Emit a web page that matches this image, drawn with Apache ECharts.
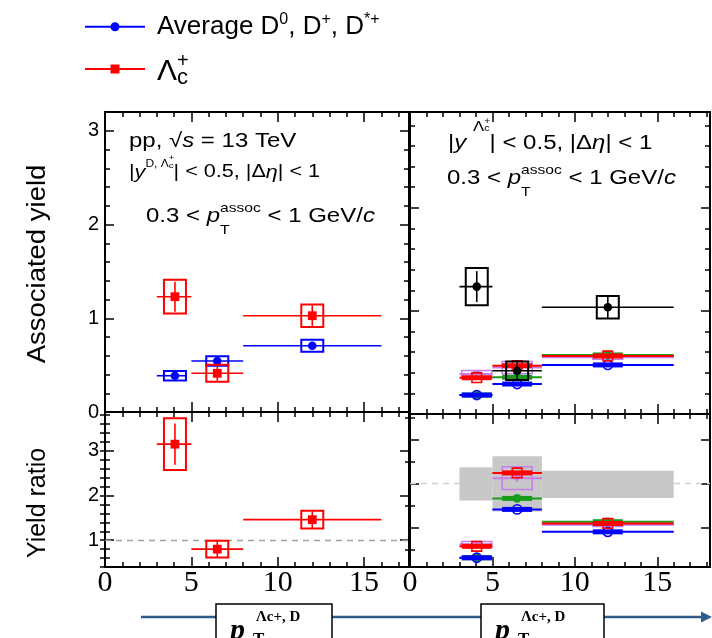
<!DOCTYPE html>
<html>
<head>
<meta charset="utf-8">
<script src="https://cdn.jsdelivr.net/npm/echarts@6/dist/echarts.min.js"></script>
<style>
  html, body { margin: 0; padding: 0; background: #fff; }
  #chart { width: 712px; height: 638px; }
</style>
</head>
<body>
<div id="chart"></div>
<script>
// ---- pT binning (GeV/c) ----
const binLow = [3, 5, 8];
const binHigh = [5, 8, 16];
const binMean = [4.05, 6.5, 12.0];
const dBinHigh = [4.7, 8, 16];

// ---- Associated yields, 0.3 < pT(assoc) < 1 GeV/c ----
const lcYield = [1.23, 0.413, 1.027];
const lcStat = [0.16, 0.08, 0.11];
const lcSyst = [0.18, 0.09, 0.12];
const dYield = [0.387, 0.544, 0.707];
const dStat = [0.03, 0.03, 0.03];
const dSyst = [0.05, 0.05, 0.065];

// ---- Lambda_c / D yield ratio ----
const ratio = [3.15, 0.80, 1.46];
const ratioStat = [0.46, 0.18, 0.19];
const ratioSyst = [0.58, 0.19, 0.20];
const unityRatio = 1;

// ---- Right column: Lambda_c yields and model curves ----
const lcYieldR = [1.236, 0.42, 1.036];
const lcStatR = [0.15, 0.10, 0.11];
const lcSystR = [0.18, 0.09, 0.11];
const modelRedYield = [0.352, 0.469, 0.563];
const modelVioletYield = [0.388, 0.45, 0.55];
const modelVioletYieldErr = [0.033, 0.06, 0.02];
const modelGreenYield = [0.184, 0.356, 0.573];
const modelBlueYield = [0.184, 0.291, 0.476];

// ---- Right column: ratios ----
const modelRedRatio = [0.57, 2.24, 1.09];
const modelVioletRatio = [0.62, 2.12, 1.06];
const modelVioletRatioErr = [0.06, 0.26, 0.04];
const modelGreenRatio = [0.31, 1.66, 1.13];
const modelBlueRatio = [0.31, 1.41, 0.90];
const refBandLow = [1.61, 1.36, 1.67];
const refBandHigh = [2.37, 2.62, 2.29];
const refRatio = 2.0;

// ---- Tick labels ----
const xTickLabels = [0, 5, 10, 15];
const yieldTickLabels = [0, 1, 2, 3];
const ratioTickLabels = [1, 2, 3];

const SANS = "'Liberation Sans', Arial, Helvetica, sans-serif";
const SERIF = "'Liberation Serif', 'Times New Roman', serif";
const RED = '#ff0000', BLUE = '#0000ff', GREEN = '#1a9a1a', VIOLET = '#c47ee8', BLACK = '#000000';

const FRAME = { color: '#000', width: 2 };
const TICK = { color: '#000', width: 1.5 };

// ---------- grids ----------
const grid = [
  { left: 105, top: 112, width: 304, height: 300 },  // yields, data
  { left: 105, top: 412, width: 304, height: 155 },  // ratio, data
  { left: 410, top: 112, width: 300, height: 302 },  // yields, models
  { left: 410, top: 414, width: 300, height: 153 }   // ratio, models
].map(g => Object.assign({ show: false, containLabel: false, outerBoundsMode: 'none' }, g));

// ---------- axes ----------
const xAxes = [];
function addX(gridIndex, max, labels) {
  ['bottom', 'top'].forEach(pos => {
    const ax = {
      type: 'value', gridIndex, min: 0, max, interval: 5, position: pos,
      axisLine: { show: true, onZero: false, lineStyle: FRAME },
      axisTick: { show: true, inside: true, length: 10, lineStyle: TICK },
      minorTick: { show: true, splitNumber: 5, length: 5, lineStyle: TICK },
      splitLine: { show: false }, minorSplitLine: { show: false },
      axisLabel: { show: false }
    };
    if (pos === 'bottom' && labels) {
      ax.axisLabel = { show: true, customValues: labels, fontFamily: SERIF, fontSize: 30,
                       color: '#000', margin: 1 };
    }
    xAxes.push(ax);
  });
}
addX(0, 17.6, null);
addX(1, 17.6, xTickLabels);
addX(2, 18.2, null);
addX(3, 18.2, xTickLabels);

const yAxes = [];
const yLabel = vals => ({ show: true, customValues: vals, fontFamily: SANS, fontSize: 20, color: '#000', margin: 6 });
function addY(gridIndex, min, max, cfg) {
  const first = yAxes.length;
  const common = pos => ({
    type: 'value', gridIndex, min, max, position: pos,
    axisLine: { show: true, onZero: false, lineStyle: FRAME },
    splitLine: { show: false }, minorSplitLine: { show: false }
  });
  if (cfg.interval) {
    ['left', 'right'].forEach(pos => {
      yAxes.push(Object.assign(common(pos), {
        interval: cfg.interval,
        axisTick: { show: true, inside: true, length: 9, lineStyle: TICK },
        minorTick: { show: true, splitNumber: 5, length: 5, lineStyle: TICK },
        axisLabel: pos === 'left' && cfg.labels ? yLabel(cfg.labels) : { show: false }
      }));
    });
  } else {
    // major ticks on both sides, then minor ticks on both sides
    ['left', 'right'].forEach(pos => {
      yAxes.push(Object.assign(common(pos), {
        axisTick: { show: true, inside: true, length: 9, lineStyle: TICK, customValues: cfg.major },
        axisLabel: pos === 'left' && cfg.labels ? yLabel(cfg.labels) : { show: false }
      }));
    });
    ['left', 'right'].forEach(pos => {
      yAxes.push(Object.assign(common(pos), {
        axisLine: { show: false },
        axisTick: { show: true, inside: true, length: 5, lineStyle: TICK, customValues: cfg.minor },
        axisLabel: { show: false }
      }));
    });
  }
  return first;
}
const steps = (a, b, s) => { const out = []; for (let v = a; v <= b + 1e-9; v += s) out.push(Math.round(v * 100) / 100); return out; };

const yTL = addY(0, 0, 3.2, { interval: 1, labels: yieldTickLabels });
const yBL = addY(1, 0.4, 3.87, { major: [1, 2, 3], minor: steps(0.4, 3.8, 0.2), labels: ratioTickLabels });
const yTR = addY(2, 0, 2.93, { interval: 1 });
const yBR = addY(3, 0.1, 3.58, { major: [1, 2, 3], minor: [0.5, 1.5, 2.5, 3.5] });

// ---------- mark shapes ----------
function marker(kind, c, color) {
  const x = c[0], y = c[1];
  switch (kind) {
    case 'circle': return { type: 'circle', shape: { cx: x, cy: y, r: 4.3 }, style: { fill: color } };
    case 'square': return { type: 'rect', shape: { x: x - 4.4, y: y - 4.4, width: 8.8, height: 8.8 }, style: { fill: color } };
    case 'openCircle': return { type: 'circle', shape: { cx: x, cy: y, r: 4.6 }, style: { fill: 'none', stroke: color, lineWidth: 1.6 } };
    case 'openSquare': return { type: 'rect', shape: { x: x - 4.8, y: y - 4.8, width: 9.6, height: 9.6 }, style: { fill: 'none', stroke: color, lineWidth: 1.6 } };
    case 'downTriangle': return { type: 'polygon', shape: { points: [[x - 4.5, y - 3.5], [x + 4.5, y - 3.5], [x, y + 4.5]] }, style: { fill: color } };
  }
  return null;
}

// measurement: [x, y, xLow, xHigh, stat, syst]
const measRender = (color, kind) => (params, api) => {
  const x = api.value(0), y = api.value(1);
  const c = api.coord([x, y]);
  const l = api.coord([api.value(2), y]), r = api.coord([api.value(3), y]);
  const t = api.coord([x, y + api.value(4)]), b = api.coord([x, y - api.value(4)]);
  const st = api.coord([x, y + api.value(5)]), sb = api.coord([x, y - api.value(5)]);
  const hw = 11;
  return { type: 'group', children: [
    { type: 'rect', shape: { x: c[0] - hw, y: st[1], width: 2 * hw, height: sb[1] - st[1] }, style: { fill: 'none', stroke: color, lineWidth: 2 } },
    { type: 'line', shape: { x1: l[0], y1: c[1], x2: r[0], y2: c[1] }, style: { stroke: color, lineWidth: 1.6 } },
    { type: 'line', shape: { x1: c[0], y1: t[1], x2: c[0], y2: b[1] }, style: { stroke: color, lineWidth: 1.6 } },
    marker(kind, c, color)
  ] };
};

// model: [x, y, xLow, xHigh, (err)]
const modelRender = (color, kind, boxed) => (params, api) => {
  const x = api.value(0), y = api.value(1);
  const c = api.coord([x, y]);
  const l = api.coord([api.value(2), y]), r = api.coord([api.value(3), y]);
  const kids = [{ type: 'line', shape: { x1: l[0], y1: c[1], x2: r[0], y2: c[1] }, style: { stroke: color, lineWidth: 2 } }];
  if (boxed) {
    const t = api.coord([x, y + api.value(4)]), b = api.coord([x, y - api.value(4)]);
    kids.push({ type: 'rect', shape: { x: c[0] - 15, y: t[1], width: 30, height: b[1] - t[1] }, style: { fill: 'none', stroke: color, lineWidth: 1.5 } });
  } else {
    kids.push({ type: 'rect', shape: { x: c[0] - 15, y: c[1] - 2.5, width: 30, height: 5 }, style: { fill: color } });
  }
  kids.push(marker(kind, c, color));
  return { type: 'group', children: kids };
};

// reference band: [xLow, xHigh, yLow, yHigh]
const bandRender = (params, api) => {
  const p0 = api.coord([api.value(0), api.value(2)]);
  const p1 = api.coord([api.value(1), api.value(3)]);
  return { type: 'rect', shape: { x: p0[0], y: p1[1], width: p1[0] - p0[0], height: p0[1] - p1[1] }, style: { fill: '#c8c8c8' } };
};

const measData = (xs, ys, lo, hi, st, sy) => xs.map((x, i) => [x, ys[i], lo[i], hi[i], st[i], sy[i]]);
const modelData = (ys, err) => binMean.map((x, i) => err ? [x, ys[i], binLow[i], binHigh[i], err[i]] : [x, ys[i], binLow[i], binHigh[i]]);

const cs = (name, g, yIdx, render, data, z, extra) => Object.assign({
  name, type: 'custom', coordinateSystem: 'cartesian2d',
  xAxisIndex: 2 * g, yAxisIndex: yIdx, renderItem: render, data, z, clip: false, silent: true
}, extra || {});

const dashed = (value, color) => ({
  silent: true, symbol: ['none', 'none'], z: 1, label: { show: false },
  lineStyle: { type: [6, 5], color, width: 1.3 }, data: [{ yAxis: value }]
});

const series = [
  cs('avgD', 0, yTL, measRender(BLUE, 'circle'), measData(binMean, dYield, binLow, dBinHigh, dStat, dSyst), 4, { itemStyle: { color: BLUE } }),
  cs('lambdaC', 0, yTL, measRender(RED, 'square'), measData(binMean, lcYield, binLow, binHigh, lcStat, lcSyst), 5, { itemStyle: { color: RED } }),
  cs('ratio', 1, yBL, measRender(RED, 'square'), measData(binMean, ratio, binLow, binHigh, ratioStat, ratioSyst), 5,
     { markLine: dashed(unityRatio, '#a0a0a0') }),

  cs('refBand', 3, yBR, bandRender, binLow.map((x, i) => [x, binHigh[i], refBandLow[i], refBandHigh[i]]), 2,
     { markLine: dashed(refRatio, '#d0d0d0') }),

  cs('violetY', 2, yTR, modelRender(VIOLET, 'downTriangle', true), modelData(modelVioletYield, modelVioletYieldErr), 3),
  cs('greenY', 2, yTR, modelRender(GREEN, 'circle'), modelData(modelGreenYield), 3),
  cs('blueY', 2, yTR, modelRender(BLUE, 'openCircle'), modelData(modelBlueYield), 3),
  cs('redY', 2, yTR, modelRender(RED, 'openSquare'), modelData(modelRedYield), 3),
  cs('dataY', 2, yTR, measRender(BLACK, 'circle'), measData(binMean, lcYieldR, binLow, binHigh, lcStatR, lcSystR), 6),

  cs('violetR', 3, yBR, modelRender(VIOLET, 'downTriangle', true), modelData(modelVioletRatio, modelVioletRatioErr), 3),
  cs('greenR', 3, yBR, modelRender(GREEN, 'circle'), modelData(modelGreenRatio), 3),
  cs('blueR', 3, yBR, modelRender(BLUE, 'openCircle'), modelData(modelBlueRatio), 3),
  cs('redR', 3, yBR, modelRender(RED, 'openSquare'), modelData(modelRedRatio), 3)
];

// ---------- rich text with super/subscripts ----------
// Every token shares the line height; scripts are moved with asymmetric padding.
// Offsets are baseline heights above the main baseline, in px.
function richSet(fs, family, s) {
  const lh = s.lh || 2 * fs;
  const f = { fontFamily: family, color: '#000' };
  const pad = (size, up) => {
    const shift = 0.32 * fs - 0.32 * size - up;   // > 0 moves the glyph down
    return shift >= 0 ? [2 * shift, 0, 0, 0] : [0, 0, -2 * shift, 0];
  };
  const tok = (size, up, extra) => Object.assign({}, f, { fontSize: size, lineHeight: lh, padding: pad(size, up) }, extra || {});
  return {
    m: Object.assign({}, f, { fontSize: fs, lineHeight: lh }),
    mi: Object.assign({}, f, { fontSize: fs, lineHeight: lh, fontStyle: 'italic' }),
    sp: tok(s.ss, s.raise || 0),
    sb0: tok(s.ss, -(s.drop || 0), { width: 0.01 }),
    tp0: tok(s.ts || 8, s.tUp || 0, { width: 0.01 }),
    tb: tok(s.ts || 8, s.tDown || 0)
  };
}

const STRETCH = 1.2;   // the in-frame captions are set slightly wide
const txt = (x, y, text, rich) => ({
  type: 'text', x, y, scaleX: STRETCH, silent: true,
  style: { text, rich, align: 'left', verticalAlign: 'middle' }
});

const rPt = richSet(20, SANS, { ss: 13, raise: 10, drop: 12 });
const rPp = richSet(20, SANS, { ss: 13, raise: 9 });
const rYl = richSet(18, SANS, { ss: 10, raise: 11, ts: 8, tUp: 18, tDown: 10 });
const rYr = richSet(20, SANS, { ss: 14, raise: 18, ts: 9, tUp: 26, tDown: 19 });
const pTassoc = '{m|0.3 < }{mi|p}{sb0|T}{sp|assoc}{m| < 1 GeV/}{mi|c}';

const graphics = [
  // annotations, left column
  txt(129, 141, '{m|pp, √}{mi|s}{m| = 13 TeV}', rPp),
  txt(129, 172.5, '{m||}{mi|y}{sp|D, Λ}{tp0|+}{tb|c}{m|| < 0.5, |Δ}{mi|η}{m|| < 1}', rYl),
  txt(146, 216.6, pTassoc, rPt),
  // annotations, right column
  txt(448, 143.6, '{m||}{mi|y}{m| }{sp|Λ}{tp0|+}{tb|c}{m|| < 0.5, |Δ}{mi|η}{m|| < 1}', rYr),
  txt(447, 178.6, pTassoc, rPt),
  // axis titles
  { type: 'text', x: 38, y: 264, rotation: Math.PI / 2, scaleX: 1.1, silent: true,
    style: { text: 'Associated yield', fontFamily: SANS, fontSize: 25, fill: '#000', align: 'center', verticalAlign: 'middle' } },
  { type: 'text', x: 38, y: 503, rotation: Math.PI / 2, silent: true,
    style: { text: 'Yield ratio', fontFamily: SANS, fontSize: 25, fill: '#000', align: 'center', verticalAlign: 'middle' } },
  // pT arrow along the bottom
  { type: 'line', silent: true, shape: { x1: 141, y1: 617, x2: 704, y2: 617 }, style: { stroke: '#2f5a8a', lineWidth: 2.5 } },
  { type: 'polygon', silent: true, shape: { points: [[701, 611.5], [712, 617], [701, 622.5]] }, style: { fill: '#2f5a8a' } }
];
[[216, 116], [481, 123]].forEach(([bx, bw]) => {
  graphics.push({ type: 'rect', silent: true, shape: { x: bx, y: 604, width: bw, height: 40 }, style: { fill: '#fff', stroke: '#000', lineWidth: 1.5 } });
  graphics.push({ type: 'text', silent: true, x: bx + 14, y: 631, style: { text: 'p', fontFamily: SERIF, fontSize: 30, fontWeight: 'bold', fontStyle: 'italic', fill: '#000', verticalAlign: 'middle' } });
  graphics.push({ type: 'text', silent: true, x: bx + 37, y: 640, style: { text: 'T', fontFamily: SERIF, fontSize: 17, fontWeight: 'bold', fill: '#000', verticalAlign: 'middle' } });
  graphics.push({ type: 'text', silent: true, x: bx + 40, y: 617, style: { text: 'Λc+, D', fontFamily: SERIF, fontSize: 15, fontWeight: 'bold', fill: '#000', verticalAlign: 'middle' } });
});

// ---------- legend ----------
const lineCircleIcon = 'path://M0,3.5H60V5.5H0Z M25.5,4.5A4.5,4.5 0 1 1 34.5,4.5A4.5,4.5 0 1 1 25.5,4.5Z';
const lineSquareIcon = 'path://M0,3.5H60V5.5H0Z M25.5,0H34.5V9H25.5Z';
const legRich1 = Object.assign({ g: { width: 7 } }, richSet(26, SANS, { lh: 36, ss: 16, raise: 10 }));
const legRich2 = {
  g: { width: 7 },
  L: { fontFamily: SANS, fontSize: 30, lineHeight: 40, padding: [6, 0, 0, 0], color: '#000' },
  p: { fontFamily: SANS, fontSize: 20, lineHeight: 40, padding: [0, 0, 15, 0], width: 0.01, color: '#000' },
  c: { fontFamily: SANS, fontSize: 22, lineHeight: 40, padding: [18, 0, 0, 0], color: '#000' }
};
const legendBase = { orient: 'vertical', left: 85, padding: 0, itemWidth: 60, itemHeight: 9, selectedMode: false };

const option = {
  animation: false,
  backgroundColor: '#fff',
  grid,
  xAxis: xAxes,
  yAxis: yAxes,
  legend: [
    Object.assign({}, legendBase, {
      top: 12,
      data: [{ name: 'avgD', icon: lineCircleIcon, itemStyle: { color: BLUE } }],
      formatter: () => '{g|}{m|Average D}{sp|0}{m|, D}{sp|+}{m|, D}{sp|*+}',
      textStyle: { rich: legRich1 }
    }),
    Object.assign({}, legendBase, {
      top: 49,
      data: [{ name: 'lambdaC', icon: lineSquareIcon, itemStyle: { color: RED } }],
      formatter: () => '{g|}{L|Λ}{p|+}{c|c}',
      textStyle: { rich: legRich2 }
    })
  ],
  graphic: { elements: graphics },
  series
};

const chart = echarts.init(document.getElementById('chart'), null, { renderer: 'canvas' });
chart.setOption(option);
</script>
</body>
</html>
